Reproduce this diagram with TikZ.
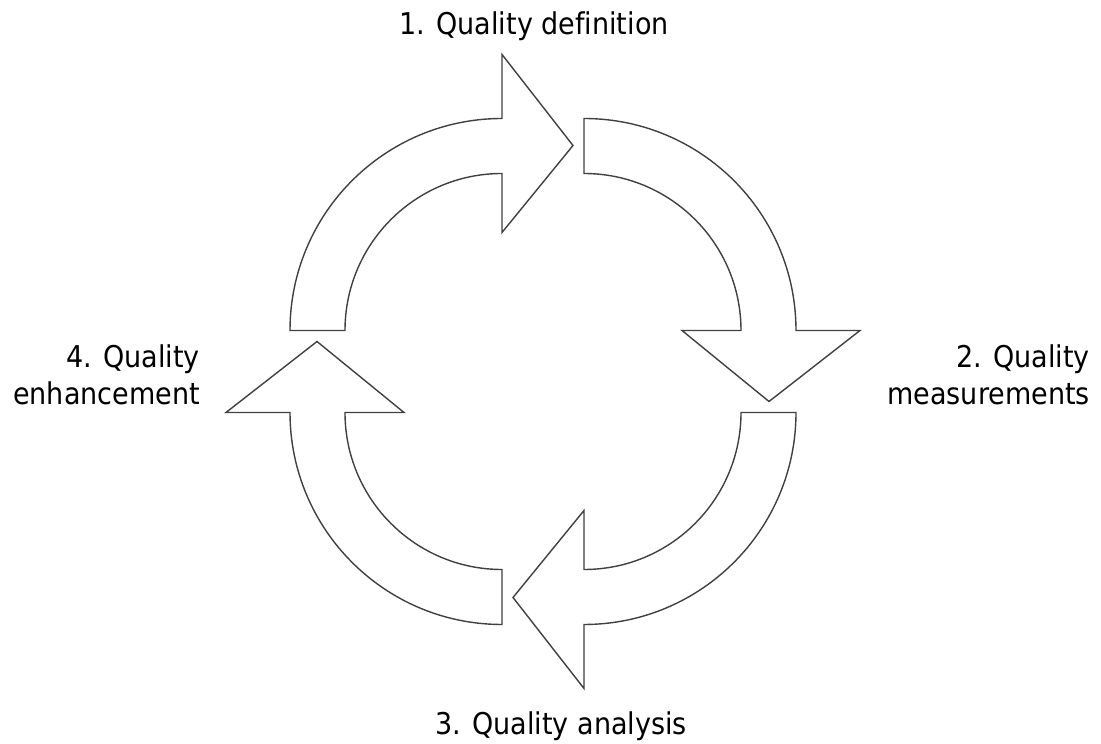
\documentclass[tikz,border=0pt]{standalone}
\usepackage{fontspec}
\setmainfont{DejaVu Sans}[FakeStretch=0.9, Ligatures=NoCommon]
\begin{document}
\begin{tikzpicture}[x=1pt,y=1pt,
  cyclearrow/.style={draw=black!75, line width=1.4pt, fill=white, line join=miter},
  lbl/.style={font=\fontsize{30}{37}\selectfont, text=black, inner sep=0pt}]
\useasboundingbox (0,0) rectangle (1101,744);
\coordinate (C) at (543,372.5);
\foreach \ang in {0,-90,-180,-270}{
  \begin{scope}[shift={(C)}, rotate=\ang]
    \draw[cyclearrow] (-253,41) -- (-198,41)
      arc[start angle=180, end angle=90, radius=157]
      -- (-41,139) -- (30,226) -- (-41,317) -- (-41,253)
      arc[start angle=90, end angle=180, radius=212] -- cycle;
  \end{scope}
}
\node[lbl, anchor=base] (l1) at (534,709) {1. Quality definition};
\node[lbl, anchor=base east, align=right] (l2) at (1090,339) {2. Quality\\measurements};
\node[lbl, anchor=base] (l3) at (561,9) {3. Quality analysis};
\node[lbl, anchor=base east, align=right] (l4) at (200,339) {4. Quality\\enhancement};
\end{tikzpicture}
\end{document}
